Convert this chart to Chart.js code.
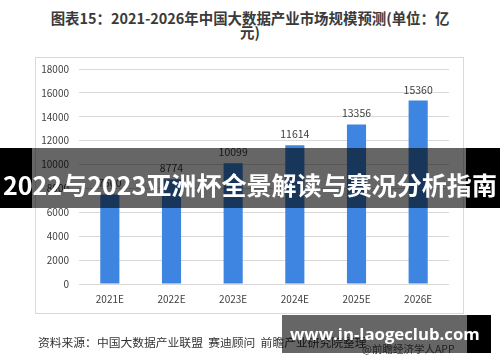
<!DOCTYPE html>
<html>
<head>
<meta charset="utf-8">
<script src="https://cdn.jsdelivr.net/npm/chart.js@4/dist/chart.umd.min.js"></script>
<style>
  html, body { margin:0; padding:0; background:#fff; }
  #wrap { position:relative; width:500px; height:362px; overflow:hidden; background:#fff; font-family:"Noto Sans CJK SC","Noto Sans",sans-serif; }
  .abs { position:absolute; white-space:nowrap; }
  #title { left:0; width:500px; top:11px; text-align:center; font-weight:bold; font-size:14.3px; line-height:14px; color:#3a3a3a; }
  #box { left:35px; top:57px; width:427px; height:255px; border:1px solid #d9d9d9; }
  #src { left:38px; top:334px; font-size:11.5px; line-height:16px; color:#333; }
  #app { left:362px; top:341px; font-size:10.5px; line-height:16px; color:#555; }
  #band { left:0; top:148px; width:500px; height:60px; background:rgba(0,0,0,0.6); }
  #bandL { left:0; top:148px; width:32px; height:60px; background:#000; }
  #bandR { left:466px; top:148px; width:34px; height:60px; background:#000; }
  #bandText { left:0; width:500px; top:168px; text-align:center; color:#fff; font-weight:bold; font-size:26px; line-height:32px; }
  #foot { left:282px; top:315px; width:185px; height:38px; background:rgba(0,0,0,0.6); }
  #footR { left:467px; top:315px; width:24px; height:38px; background:#000; }
  #footText { left:290px; top:320px; color:#fff; font-weight:bold; font-size:22px; line-height:28px; font-family:"Open Sans","DejaVu Sans",sans-serif; }
  canvas { position:absolute; left:0; top:0; }
</style>
</head>
<body>
<div id="wrap">
  <div id="title" class="abs"><span id="t1">图表15：2021-2026年中国大数据产业市场规模预测(单位：亿</span><br>元)</div>
  <div id="box" class="abs"></div>
  <canvas id="c" width="500" height="362"></canvas>
  <div id="src" class="abs">资料来源：中国大数据产业联盟&nbsp; 赛迪顾问&nbsp; 前瞻产业研究院整理</div>
  <div id="app" class="abs">@前瞻经济学人APP</div>
  <div id="band" class="abs"></div>
  <div id="bandL" class="abs"></div>
  <div id="bandR" class="abs"></div>
  <div id="bandText" class="abs">2022与2023亚洲杯全景解读与赛况分析指南</div>
  <div id="foot" class="abs"></div>
  <div id="footR" class="abs"></div>
  <div id="footText" class="abs">www.in-laogeclub.com</div>
</div>
<script>
const categories = ["2021E", "2022E", "2023E", "2024E", "2025E", "2026E"];
const marketSize = [7500, 8774, 10099, 11614, 13356, 15360];
const yTicks = [0, 2000, 4000, 6000, 8000, 10000, 12000, 14000, 16000, 18000];

function fitWidth(id, target, measureId) {
  const el = document.getElementById(id);
  const m = document.getElementById(measureId || id);
  const fs = parseFloat(getComputedStyle(el).fontSize);
  const r = document.createRange(); r.selectNodeContents(m);
  const w = r.getBoundingClientRect().width;
  el.style.fontSize = (fs * target / w) + "px";
}
fitWidth("bandText", 494);
fitWidth("footText", 190);
fitWidth("title", 399, "t1");
fitWidth("src", 329);

const valueLabels = {
  id: "valueLabels",
  afterDatasetsDraw(chart) {
    const ctx = chart.ctx;
    const meta = chart.getDatasetMeta(0);
    ctx.save();
    ctx.font = '10.5px "Noto Sans CJK SC", "Noto Sans", sans-serif';
    ctx.fillStyle = "#404040";
    ctx.textAlign = "center";
    ctx.textBaseline = "middle";
    meta.data.forEach((bar, i) => {
      ctx.fillText(String(chart.data.datasets[0].data[i]), bar.x, bar.y - 11);
    });
    ctx.restore();
  }
};

new Chart(document.getElementById("c"), {
  type: "bar",
  data: {
    labels: categories,
    datasets: [{
      data: marketSize,
      backgroundColor: "#3d85e0",
      barPercentage: 0.31,
      categoryPercentage: 1
    }]
  },
  options: {
    responsive: false,
    animation: false,
    layout: { padding: { top: 69, left: 35, right: 51, bottom: 50 } },
    plugins: { legend: { display: false }, tooltip: { enabled: false }, title: { display: false } },
    scales: {
      y: {
        min: 0, max: 18000,
        afterBuildTicks(scale) { scale.ticks = yTicks.map(v => ({ value: v })); },
        afterFit(scale) { scale.width = 44; },
        ticks: { color: "#404040", padding: 10, callback: v => String(v), font: { size: 10, family: '"Noto Sans CJK SC", "Noto Sans", sans-serif' } },
        grid: { color: "#d9d9d9", drawTicks: false },
        border: { display: false }
      },
      x: {
        afterFit(scale) { scale.height = 28; },
        ticks: { color: "#404040", padding: 9, font: { size: 10, family: '"Noto Sans CJK SC", "Noto Sans", sans-serif' } },
        grid: { display: false, drawTicks: false },
        border: { display: false }
      }
    }
  },
  plugins: [valueLabels]
});
</script>
</body>
</html>
